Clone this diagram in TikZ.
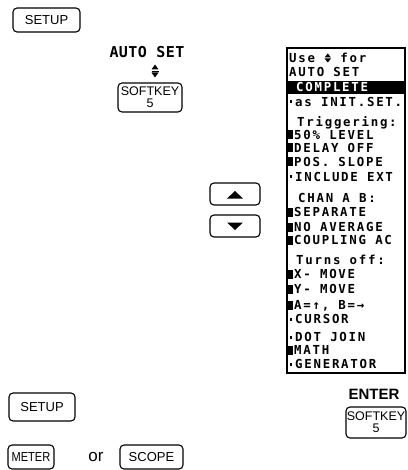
\documentclass[tikz,border=0pt]{standalone}
\usepackage{fontspec}
\usepackage{graphicx}
\setmainfont{Liberation Sans}
\newfontfamily\scrfont[LetterSpace=14]{DejaVu Sans Mono}
\newfontfamily\scrbigfont[LetterSpace=3]{DejaVu Sans Mono}
\newcommand\udsym{\tikz[baseline=0pt,x=1pt,y=1pt]{\fill (0,5)--(3.2,9)--(6.4,5)--cycle; \fill (0,4)--(3.2,0)--(6.4,4)--cycle;}}
\begin{document}
\begin{tikzpicture}[x=1pt,y=-1pt,
  key/.style={draw, rounded corners=4pt, line width=1.1pt, inner sep=0pt, align=center},
  keyfont/.style={font=\fontsize{13}{13}\selectfont},
  skfont/.style={font=\fontsize{12.5}{12}\selectfont},
  row/.style={font=\scrfont\bfseries\fontsize{12.4}{12}\selectfont, anchor=base west, inner sep=0pt},
  blk/.style={fill=black},
]
\useasboundingbox (0,0) rectangle (407,470);

% top keys
\node[key, keyfont, minimum width=67pt, minimum height=24pt] (setupA) at (46.5,20) {SETUP};
\node[inner sep=0pt, font=\scrbigfont\bfseries\fontsize{15}{15}\selectfont] (autoset) at (147,52.5) {AUTO SET};
\fill (151.5,69.5) -- (155,64.5) -- (158.5,69.5) -- cycle;
\draw[line width=0.8pt] (151.5,71) -- (158.5,71);
\fill (151.5,72.5) -- (155,77.5) -- (158.5,72.5) -- cycle;
\node[key, skfont, minimum width=64pt, minimum height=29pt] (skA) at (150,97.5) {SOFTKEY\\5};

% arrow keys
\node[key, minimum width=50pt, minimum height=22pt] (upkey) at (235,194) {};
\fill (227,198.5) -- (235,191) -- (243,198.5) -- cycle;
\node[key, minimum width=50pt, minimum height=22pt] (downkey) at (235,226) {};
\fill (227,222.5) -- (235,230) -- (243,222.5) -- cycle;

% screen
\draw[line width=1.5pt] (287,48) rectangle (405,373);
\fill (287,81) rectangle (405,94);
\node[row] (r1) at (289,62.5) {Use \makebox[7pt]{\udsym} for};
\node[row] (r2) at (289,76.5) {AUTO SET};
\node[row, text=white] (r3) at (296,91.5) {COMPLETE};
\fill (289.5,100.5) rectangle (292,103.5); \node[row] (r4) at (295,106.5) {as INIT.SET.};
\node[row] (r5) at (297,126.5) {Triggering:};
\fill[blk] (288,130.5) rectangle (292.5,139.5); \node[row] (r6) at (294,139.5) {50\% LEVEL};
\fill[blk] (288,143.5) rectangle (292.5,152.5); \node[row] (r7) at (294,152.5) {DELAY OFF};
\fill[blk] (288,157.5) rectangle (292.5,166.5); \node[row] (r8) at (294,166.5) {POS. SLOPE};
\fill (289.5,175.5) rectangle (292,178.5); \node[row] (r9) at (295,181.5) {INCLUDE EXT};
\node[row] (r10) at (298,202.5) {CHAN A B:};
\fill[blk] (288,207.5) rectangle (292.5,216.5); \node[row] (r11) at (294,216.5) {SEPARATE};
\fill[blk] (288,222.5) rectangle (292.5,231.5); \node[row] (r12) at (294,231.5) {NO AVERAGE};
\fill[blk] (288,235.5) rectangle (292.5,244.5); \node[row] (r13) at (294,244.5) {COUPLING AC};
\node[row] (r14) at (296,264.5) {Turns off:};
\fill[blk] (288,269.5) rectangle (292.5,278.5); \node[row] (r15) at (294,278.5) {X- MOVE};
\fill[blk] (288,284.5) rectangle (292.5,293.5); \node[row] (r16) at (294,293.5) {Y- MOVE};
\fill[blk] (288,300.5) rectangle (292.5,309.5); \node[row] (r17) at (294,309.5) {A=↑, B=→};
\fill (289.5,317.5) rectangle (292,320.5); \node[row] (r18) at (295,323.5) {CURSOR};
\fill (289.5,335.5) rectangle (292,338.5); \node[row] (r19) at (295,341.5) {DOT JOIN};
\fill[blk] (288,345.5) rectangle (292.5,354.5); \node[row] (r20) at (294,354.5) {MATH};
\fill (289.5,362.5) rectangle (292,365.5); \node[row] (r21) at (295,368.5) {GENERATOR};

% bottom keys
\node[key, keyfont, minimum width=66pt, minimum height=28pt] (setupB) at (42,407) {SETUP};
\node[inner sep=0pt, font=\bfseries\fontsize{15}{15}\selectfont] (enter) at (374,394) {ENTER};
\node[key, skfont, minimum width=60pt, minimum height=31pt] (skB) at (376,422.5) {SOFTKEY\\5};
\node[key, keyfont, minimum width=46pt, minimum height=24pt] (meter) at (31,457) {\scalebox{0.85}[1]{METER}};
\node[inner sep=0pt, font=\fontsize{17}{17}\selectfont] (or) at (96,457) {or};
\node[key, keyfont, minimum width=63pt, minimum height=24pt] (scope) at (151.5,457) {SCOPE};
\end{tikzpicture}
\end{document}
